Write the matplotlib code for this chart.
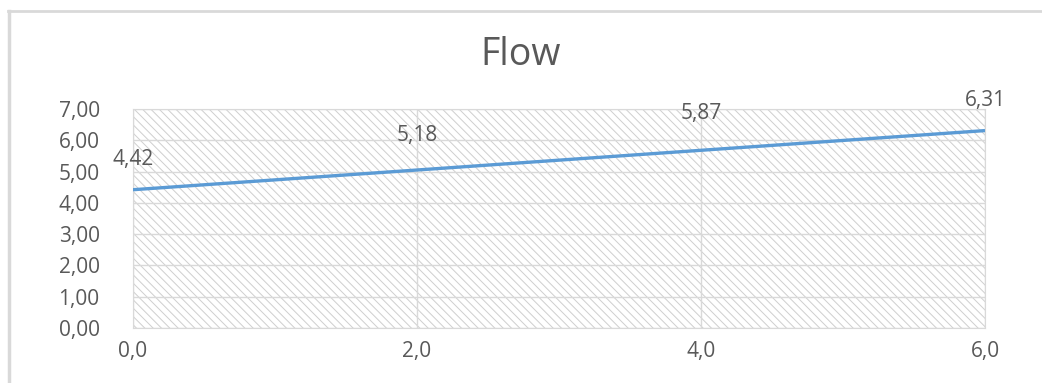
import matplotlib
matplotlib.use("Agg")
import matplotlib.pyplot as plt
from matplotlib.patches import Rectangle
from matplotlib.lines import Line2D

# Flow data
x_vals = [0, 2, 4, 6]
flow = [4.42, 5.18, 5.87, 6.31]
y_ticks = [0, 1, 2, 3, 4, 5, 6, 7]
x_ticks = [0, 2, 4, 6]

txt = "#595959"
plt.rcParams["font.family"] = ["Open Sans", "DejaVu Sans"]
plt.rcParams["hatch.linewidth"] = 0.7

fig = plt.figure(figsize=(10.42, 3.83), dpi=100)
ax = fig.add_axes([0.1276, 0.1436, 0.8177, 0.5718])

# hatched plot area
ax.add_patch(Rectangle((0, 0), 1, 1, transform=ax.transAxes, facecolor="none",
                       edgecolor="#cfcfcf", hatch="\\\\\\\\", linewidth=0, zorder=0))

# straight trend from first to last reading, labels sit on each reading
ax.plot([x_vals[0], x_vals[-1]], [flow[0], flow[-1]], color="#5b9bd5",
        linewidth=2.4, solid_capstyle="butt", zorder=3)
ax.plot(x_vals, flow, linestyle="none", marker="none")
for xv, yv in zip(x_vals, flow):
    ax.annotate(f"{yv:.2f}".replace(".", ","), (xv, yv), xytext=(0, 22),
                textcoords="offset points", ha="center", va="center",
                fontsize=15, color=txt, annotation_clip=False, zorder=4)

ax.set_xlim(0, 6)
ax.set_ylim(0, 7)
ax.set_xticks(x_ticks)
ax.set_xticklabels([f"{v:.1f}".replace(".", ",") for v in x_ticks])
ax.set_yticks(y_ticks)
ax.set_yticklabels([f"{v:.2f}".replace(".", ",") for v in y_ticks])
ax.grid(True, color="#d9d9d9", linewidth=1)
ax.set_axisbelow(True)
ax.tick_params(length=0, labelsize=15, labelcolor=txt)
ax.tick_params(axis="x", pad=9)
ax.tick_params(axis="y", pad=24)
for s in ax.spines.values():
    s.set_color("#d9d9d9")

fig.text(0.5, 0.856, "Flow", ha="center", va="center", fontsize=27, color=txt)

# chart border (left and top edges)
fig.add_artist(Line2D([0.009, 0.009], [0, 0.97], transform=fig.transFigure,
                      color="#d9d9d9", linewidth=2.5))
fig.add_artist(Line2D([0.008, 1], [0.97, 0.97], transform=fig.transFigure,
                      color="#d9d9d9", linewidth=2))

fig.savefig("out.png", dpi=100)
